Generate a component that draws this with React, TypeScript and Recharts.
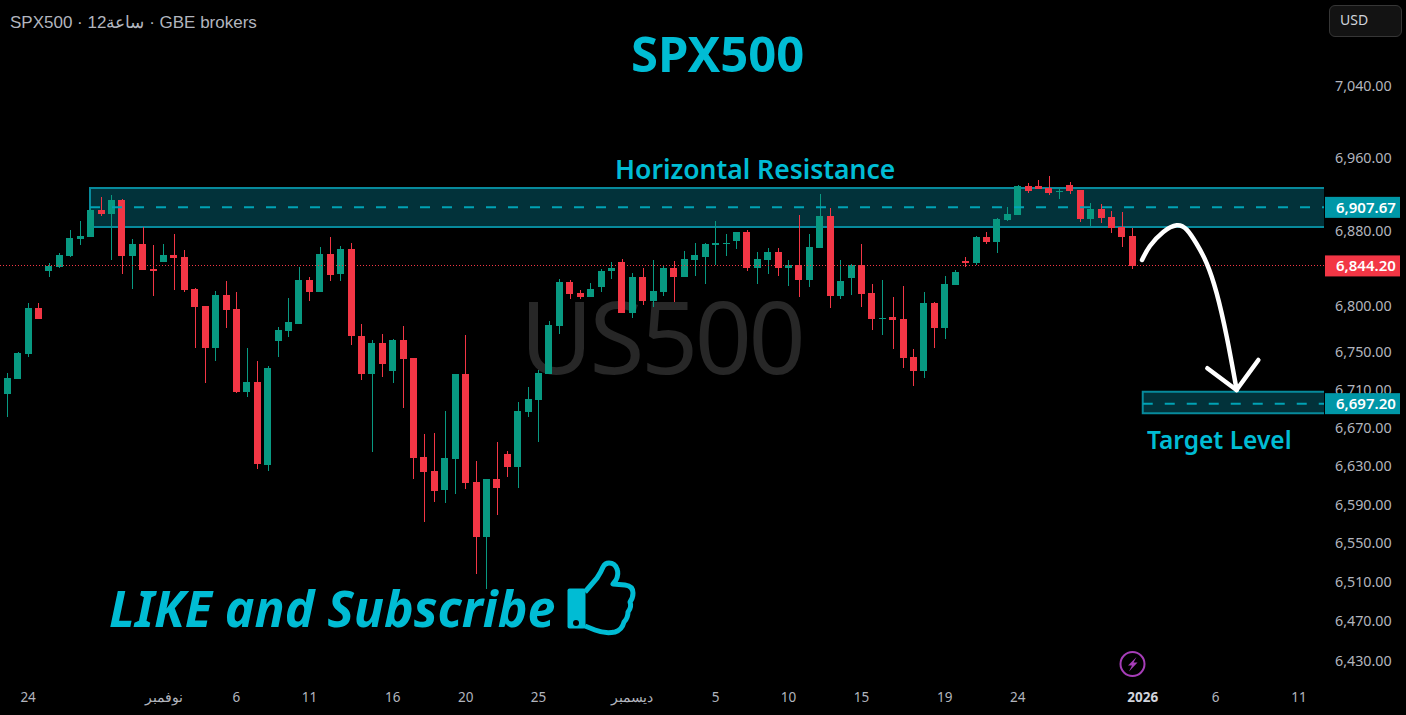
import { Bar, ComposedChart, Line, ReferenceArea, ReferenceLine, XAxis, YAxis } from "recharts";

const opens = [
  6707.4, 6723.3, 6749.9, 6799, 6838.8, 6843.1, 6854.9, 6873.3, 6875.5, 6904.8,
  6900.5, 6915.7, 6854.9, 6867.9, 6840.9, 6848.5, 6856, 6853.9, 6819.4, 6801.1,
  6756.2, 6812.9, 6797.9, 6709.5, 6720.1, 6632.8, 6763.7, 6774.4, 6781.9, 6829,
  6816.2, 6857.1, 6835.5, 6862.5, 6769.1, 6728.6, 6761.6, 6731.8, 6764.8, 6745.6,
  6641.1, 6626.5, 6606.7, 6639, 6728.6, 6615.1, 6558, 6618.2, 6644.2, 6630.7,
  6688.4, 6701, 6728.6, 6779.7, 6826.9, 6815, 6810.7, 6821.6, 6838.8, 6848.5,
  6793.6, 6832.3, 6806.4, 6816.2, 6842, 6832.3, 6850.6, 6853.9, 6866.8, 6867.9,
  6871.2, 6881, 6842, 6850.6, 6859.2, 6842, 6845.3, 6829, 6863.6, 6898.3,
  6811.8, 6831.2, 6845.3, 6815, 6787.2, 6789.3, 6787.2, 6746.7, 6731.8, 6804.3,
  6777.6, 6823.7, 6849.5, 6847.4, 6875.5, 6870.1, 6894, 6899.4, 6931, 6931,
  6928.8, 6924.4, 6932.1, 6926.6, 6895.1, 6905.9, 6897.3, 6886.4, 6876.6,
];

const closes = [
  6724.4, 6750.9, 6799, 6787.2, 6844.2, 6856, 6874.4, 6876.6, 6904.8, 6900.5,
  6915.7, 6854.9, 6867.9, 6839.8, 6838.8, 6856, 6852.8, 6818.3, 6800, 6756.2,
  6812.9, 6796.8, 6709.5, 6720.1, 6633.8, 6735, 6775.5, 6784, 6829, 6816.2,
  6857.1, 6834.4, 6862.5, 6769.1, 6728.6, 6761.6, 6739.2, 6764.8, 6744.5, 6640.1,
  6625.5, 6605.7, 6640.1, 6728.6, 6614.1, 6558, 6618.2, 6608.8, 6630.7, 6689.4,
  6702.1, 6729.7, 6780.8, 6826.9, 6814, 6810.7, 6819.4, 6838.8, 6842, 6793.6,
  6832.3, 6806.4, 6817.2, 6842, 6832.3, 6851.7, 6856, 6867.9, 6869, 6869,
  6881, 6842, 6851.7, 6859.2, 6842, 6845.3, 6829, 6864.6, 6898.3, 6811.8,
  6828, 6845.3, 6814, 6787.2, 6788.3, 6786.1, 6745.6, 6731.8, 6804.3, 6777.6,
  6824.7, 6837.7, 6847.4, 6875.5, 6870.1, 6895.1, 6900.5, 6931, 6925.5, 6927.7,
  6923.3, 6925.5, 6925.5, 6895.1, 6905.9, 6896.2, 6885.3, 6875.5, 6844.2,
];

const highs = [
  6729.4, 6752, 6804.3, 6804.3, 6847.4, 6858.2, 6883.1, 6892.9, 6907, 6919,
  6921.2, 6916.8, 6873.3, 6886.4, 6866.8, 6867.9, 6878.8, 6861.4, 6820.5, 6801.1,
  6817.2, 6828, 6816.2, 6756.2, 6742.4, 6737.1, 6778.7, 6809.6, 6843.1, 6832.3,
  6864.6, 6875.5, 6865.7, 6869, 6781.9, 6764.8, 6771.2, 6765.9, 6779.7, 6745.6,
  6665.2, 6666.3, 6689.4, 6728.6, 6770.1, 6636.9, 6618.2, 6656.8, 6647.4, 6698.9,
  6714.8, 6732.9, 6785.1, 6830.1, 6829, 6818.3, 6825.8, 6840.9, 6848.5, 6851.7,
  6836.6, 6842, 6850.6, 6844.2, 6849.5, 6860.3, 6869, 6869, 6892.9, 6878.8,
  6881, 6883.1, 6859.2, 6863.6, 6863.6, 6850.6, 6899.4, 6878.8, 6922.3, 6907,
  6850.6, 6846.3, 6867.9, 6824.7, 6829, 6810.7, 6822.6, 6755.2, 6816.2, 6805.4,
  6833.4, 6839.8, 6853.9, 6876.6, 6881, 6896.2, 6908.1, 6932.1, 6934.3, 6937.6,
  6942, 6928.8, 6935.4, 6926.6, 6912.4, 6911.4, 6903.8, 6902.7, 6885.3,
];

const lows = [
  6683.1, 6723.3, 6746.7, 6787.2, 6832.3, 6842, 6853.9, 6866.8, 6875.5, 6898.3,
  6850.6, 6835.5, 6819.4, 6839.8, 6811.8, 6848.5, 6818.3, 6816.2, 6756.2, 6719,
  6742.4, 6777.6, 6708.4, 6704.2, 6628.6, 6626.5, 6746.7, 6768, 6781.9, 6806.4,
  6816.2, 6828, 6828, 6759.4, 6722.2, 6646.3, 6725.4, 6719, 6692.6, 6618.2,
  6573.5, 6594.2, 6593.2, 6602.6, 6607.8, 6519.8, 6504.3, 6580.8, 6620.3, 6608.8,
  6683.1, 6656.8, 6728.6, 6771.2, 6808.6, 6808.6, 6810.7, 6816.2, 6830.1, 6793.6,
  6788.3, 6802.2, 6800, 6811.8, 6805.4, 6832.3, 6833.4, 6824.7, 6845.3, 6854.9,
  6862.5, 6838.8, 6824.7, 6835.5, 6833.4, 6822.6, 6810.7, 6821.6, 6863.6, 6799,
  6808.6, 6812.9, 6800, 6775.5, 6770.1, 6755.2, 6735, 6715.9, 6724.4, 6756.2,
  6765.9, 6823.7, 6843.1, 6845.3, 6867.9, 6858.2, 6892.9, 6899.4, 6923.3, 6927.7,
  6921.2, 6916.8, 6922.3, 6891.8, 6887.5, 6890.7, 6879.9, 6864.6, 6840.9,
];

const priceTicks = [7040, 6960, 6880, 6800, 6750, 6710, 6670, 6630, 6590, 6550, 6510, 6470, 6430];
const lastPrice = 6844.2;
const resistancePrice = 6907.67;
const targetPrice = 6697.2;

const timeTicks = [2, 15, 22, 29, 37, 44, 51, 60, 68, 75, 82, 90, 97, 109, 116, 124];
const timeLabels = ["24", "نوفمبر", "6", "11", "16", "20", "25", "ديسمبر", "5", "10", "15", "19", "24", "2026", "6", "11"];

// arrow drawn on the chart, bar index / price
const arrowCurveX = [108.93, 109.69, 110.97, 112.26, 113.22, 114.18, 115.14, 116.1, 117.06, 118.02];
const arrowCurveY = [6850.6, 6865.7, 6881, 6888.2, 6883.5, 6867.9, 6847, 6814.7, 6768.3, 6711.6];
const arrowHeadX = [115.2, 118, 120.1];
const arrowHeadY = [6734.7, 6711.6, 6743.5];

const UP = "#089981";
const DOWN = "#F23645";
const CYAN = "#00BCD4";
const ZONE_LINE = "#078A9C";
const ZONE_FILL = "#02323A";
const DASH = "#00A3B5";
const TAG_TEAL = "#0097A7";
const AXIS_TEXT = "#B2B5BE";
const AXIS_FONT = "'Noto Sans', sans-serif";

const X_DOMAIN: [number, number] = [-0.7, 126.4];
const Y_DOMAIN: [number, number] = [6409.7, 7137.2];

const candles = opens.map((open, i) => ({
  i,
  body: [Math.min(open, closes[i]), Math.max(open, closes[i])],
  wick: [lows[i], highs[i]],
  color: closes[i] >= open ? UP : DOWN,
}));

const arrowCurve = arrowCurveX.map((i, k) => ({ i, price: arrowCurveY[k] }));
const arrowHead = arrowHeadX.map((i, k) => ({ i, price: arrowHeadY[k] }));

function CandleRect(props: any) {
  const { x, y, width, height, payload, thickness } = props;
  const center = x + width / 2;
  return (
    <rect
      x={Math.round(center - thickness / 2)}
      y={Math.round(y)}
      width={thickness}
      height={Math.max(1, Math.round(height))}
      fill={payload.color}
      shapeRendering="crispEdges"
    />
  );
}

function PriceTick(props: any) {
  const { y, payload } = props;
  const value = payload.value;
  const tag = value === lastPrice ? DOWN : value === resistancePrice || value === targetPrice ? TAG_TEAL : null;
  const text = value.toLocaleString("en-US", { minimumFractionDigits: 2, maximumFractionDigits: 2 });
  if (tag) {
    return (
      <g>
        <rect x={1325} y={y - 10.5} width={75} height={21} fill={tag} />
        <text x={1336} y={y} dy="0.36em" fill="#fff" fontSize={15} fontWeight={600} fontFamily={AXIS_FONT}>
          {text}
        </text>
      </g>
    );
  }
  return (
    <text x={1335} y={y - 1.5} dy="0.36em" fill={AXIS_TEXT} fontSize={14.3} fontFamily={AXIS_FONT}>
      {text}
    </text>
  );
}

function TimeTick(props: any) {
  const { x, payload } = props;
  const label = timeLabels[timeTicks.indexOf(payload.value)];
  const isYear = label === "2026";
  return (
    <text
      x={x}
      y={697}
      dy="0.36em"
      textAnchor="middle"
      fill={isYear ? "#D1D4DC" : AXIS_TEXT}
      fontSize={13.5}
      fontWeight={isYear ? 700 : 400}
      fontFamily={AXIS_FONT}
    >
      {label}
    </text>
  );
}

const overlayText = {
  position: "absolute",
  whiteSpace: "nowrap",
  color: CYAN,
  fontFamily: "'Noto Sans', sans-serif",
  lineHeight: 1,
} as const;

export default function App() {
  return (
    <div style={{ position: "absolute", left: 0, top: 0, width: 1406, height: 715, background: "#000", overflow: "hidden" }}>
      <div style={{ ...overlayText, left: 520, top: 285, fontSize: 100, color: "#272727", letterSpacing: -3.5 }}>US500</div>

      <div style={{ position: "absolute", left: 0, top: 0 }}>
        <ComposedChart width={1406} height={715} data={candles} margin={{ top: 0, right: 0, bottom: 0, left: 0 }}>
          <XAxis
            dataKey="i"
            type="number"
            domain={X_DOMAIN}
            allowDataOverflow
            ticks={timeTicks}
            interval={0}
            height={33}
            axisLine={false}
            tickLine={false}
            tick={<TimeTick />}
          />
          <XAxis xAxisId="wick" dataKey="i" type="number" domain={X_DOMAIN} allowDataOverflow hide />
          <YAxis
            orientation="right"
            width={82}
            scale="log"
            domain={Y_DOMAIN}
            allowDataOverflow
            ticks={[...priceTicks, resistancePrice, lastPrice, targetPrice]}
            interval={0}
            axisLine={false}
            tickLine={false}
            tick={<PriceTick />}
          />
          <ReferenceArea
            x1={7.94}
            x2={130}
            y1={6886.4}
            y2={6928.8}
            fill={ZONE_FILL}
            fillOpacity={1}
            stroke={ZONE_LINE}
            strokeWidth={2}
            ifOverflow="hidden"
          />
          <ReferenceArea
            x1={109}
            x2={130}
            y1={6687}
            y2={6709.8}
            fill={ZONE_FILL}
            fillOpacity={1}
            stroke={ZONE_LINE}
            strokeWidth={2}
            ifOverflow="hidden"
          />
          <ReferenceLine
            segment={[{ x: 7.94, y: resistancePrice }, { x: 126.4, y: resistancePrice }]}
            stroke={DASH}
            strokeWidth={2}
            strokeDasharray="10 12"
          />
          <ReferenceLine
            segment={[{ x: 109, y: targetPrice }, { x: 126.4, y: targetPrice }]}
            stroke={DASH}
            strokeWidth={2}
            strokeDasharray="10 12"
          />
          <ReferenceLine y={lastPrice} stroke={DOWN} strokeDasharray="1 2" shapeRendering="crispEdges" />
          <Bar xAxisId="wick" dataKey="wick" barSize={1} shape={<CandleRect thickness={1} />} isAnimationActive={false} />
          <Bar dataKey="body" barSize={7} shape={<CandleRect thickness={7} />} isAnimationActive={false} />
          <Line data={arrowCurve} dataKey="price" type="natural" stroke="#fff" strokeWidth={4.5} strokeLinecap="round" dot={false} activeDot={false} isAnimationActive={false} />
          <Line data={arrowHead} dataKey="price" type="linear" stroke="#fff" strokeWidth={4.5} strokeLinecap="round" strokeLinejoin="round" dot={false} activeDot={false} isAnimationActive={false} />
        </ComposedChart>
      </div>

      <div style={{ ...overlayText, left: 10, top: 14, fontSize: 17, color: AXIS_TEXT, fontFamily: "'Liberation Sans', sans-serif" }}>
        SPX500 · 12ساعة · GBE brokers
      </div>
      <div style={{ ...overlayText, left: 631, top: 29, fontSize: 49, fontWeight: 700 }}>SPX500</div>
      <div style={{ ...overlayText, left: 615, top: 156, fontSize: 26.5, fontWeight: 600 }}>Horizontal Resistance</div>
      <div style={{ ...overlayText, left: 1147, top: 428, fontSize: 24.5, fontWeight: 600 }}>Target Level</div>
      <div style={{ ...overlayText, left: 109, top: 583, fontSize: 50, fontWeight: 700, fontStyle: "italic" }}>LIKE and Subscribe</div>

      <svg style={{ position: "absolute", left: 555, top: 550 }} width={95} height={95}>
        <rect x={12.5} y={38.5} width={18} height={40} rx={2} fill={CYAN} />
        <circle cx={21} cy={73} r={3} fill="#000" />
        <path
          d="M30 42 L42 28 Q46 22 48 17 Q50 13 54 13 Q60 13 62 19 Q64 24 61 30 L58 34 L70 35 Q78 36 78 43 Q78 48 75 52 Q77 57 73 62 Q73 68 69 72 Q67 80 60 82 Q50 84 40 80 L30 76"
          fill="none"
          stroke={CYAN}
          strokeWidth={5}
          strokeLinejoin="round"
        />
      </svg>

      <div
        style={{
          position: "absolute",
          left: 1329,
          top: 5,
          width: 71,
          height: 30,
          background: "#131313",
          border: "1px solid #363636",
          borderRadius: 6,
        }}
      />
      <div style={{ ...overlayText, left: 1340, top: 13, fontSize: 14, color: "#D1D4DC", fontFamily: AXIS_FONT }}>USD</div>

      <svg style={{ position: "absolute", left: 1118, top: 650 }} width={30} height={30}>
        <circle cx={14.5} cy={14} r={12} fill="none" stroke="#A63DB8" strokeWidth={2} />
        <path d="M18.5 7 L10 15.5 L14 15.5 L11 21.5 L19.5 12.5 L15.5 12.5 Z" fill="#A63DB8" />
      </svg>
    </div>
  );
}
